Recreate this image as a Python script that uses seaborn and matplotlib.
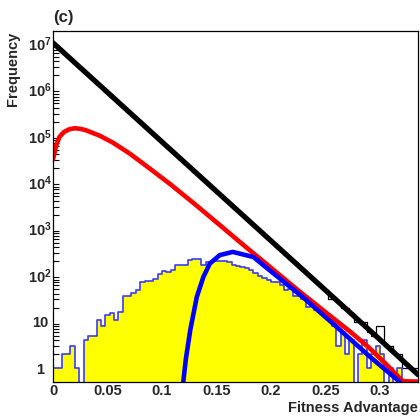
import numpy as np
import pandas as pd
import matplotlib
matplotlib.use("Agg")
import matplotlib.pyplot as plt
import seaborn as sns
from matplotlib.ticker import FixedLocator, LogLocator, NullFormatter

sns.set_theme(style="white")
plt.rcParams["font.family"] = ["Liberation Sans", "DejaVu Sans"]
plt.rcParams["font.weight"] = "bold"
plt.rcParams["mathtext.fontset"] = "custom"
plt.rcParams["mathtext.rm"] = "Liberation Sans:bold"
plt.rcParams["mathtext.bf"] = "Liberation Sans:bold"
plt.rcParams["mathtext.it"] = "Liberation Sans:bold"

# ---- data ------------------------------------------------------------
bin_width = 0.004
n_bins = 84

# sampled fitness advantages of established mutations (yellow histogram)
established_counts = [
    1, 1, 2, 2, 3, 1, 0, 4, 5, 5,
    11, 8, 14, 15, 11, 16, 35, 35, 41, 48,
    71, 74, 74, 82, 105, 123, 117, 128, 164, 164,
    164, 209, 226, 226, 164, 195, 195, 203, 203, 203,
    195, 164, 160, 151, 140, 128, 109, 95, 85, 79,
    72, 72, 61, 49, 51, 35, 35, 30, 21, 27,
    18, 15, 13, 11, 8, 3, 6, 2, 4, 0,
    2, 4, 1, 2, 3, 2, 0, 1, 0, 1,
    0, 0, 0, 0,
]

# fitness advantages of all arising mutations (black histogram)
arising_counts = [
    9.07e6, 7.45e6, 6.12e6, 5.03e6, 4.14e6, 3.40e6, 2.79e6, 2.30e6, 1.89e6, 1.55e6,
    1.27e6, 1.05e6, 8.6e5, 7.07e5, 5.81e5, 4.78e5, 3.92e5, 3.22e5, 2.65e5, 2.18e5,
    1.79e5, 1.47e5, 1.21e5, 9.94e4, 8.17e4, 6.71e4, 5.52e4, 4.53e4, 3.73e4, 3.06e4,
    2.52e4, 2.07e4, 1.70e4, 1.40e4, 1.15e4, 9440, 7760, 6380, 5240, 4310,
    3540, 2910, 2390, 1960, 1610, 1330, 1090, 896, 736, 605,
    497, 409, 336, 276, 227, 186, 153, 126, 104, 85,
    70, 57, 47, 31, 32, 26, 20, 20, 15, 10,
    10, 10, 6, 5, 8, 8, 3, 3, 2, 2,
    1, 1, 1, 1,
]

# theoretical curves: (fitness advantage, frequency)
black_s = [0.0, 0.10, 0.20, 0.30, 0.335]
black_f = [1.0e7, 7.4e4, 550, 4.1, 0.72]

red_s = [0.0, 0.003, 0.006, 0.010, 0.015, 0.020, 0.025, 0.030, 0.043, 0.055,
         0.070, 0.085, 0.107, 0.130, 0.153, 0.175, 0.199, 0.225, 0.250,
         0.273, 0.290, 0.305, 0.321, 0.335]
red_f = [3.1e4, 6.3e4, 9.5e4, 1.2e5, 1.38e5, 1.45e5, 1.41e5, 1.32e5, 1.0e5,
         7.1e4, 4.2e4, 2.3e4, 9.3e3, 3.4e3, 1200, 440, 151, 47, 16,
         6.0, 2.75, 1.26, 0.52, 0.16]

blue_s = [0.1196, 0.122, 0.126, 0.132, 0.138, 0.144, 0.153, 0.165, 0.184,
          0.199, 0.229, 0.260, 0.291, 0.318]
blue_f = [0.45, 1.6, 6.6, 34, 91, 178, 269, 316, 245, 126, 34, 7.8, 1.74,
          0.5]

x_ticks = [0, 0.05, 0.1, 0.15, 0.2, 0.25, 0.3]
x_labels = ["0", "0.05", "0.1", "0.15", "0.2", "0.25", "0.3"]
y_ticks = [1, 10, 1e2, 1e3, 1e4, 1e5, 1e6, 1e7]
y_labels = ["1", "10", r"$10^{2}$", r"$10^{3}$", r"$10^{4}$", r"$10^{5}$",
            r"$10^{6}$", r"$10^{7}$"]

# ---- figure ----------------------------------------------------------
W, H = 420, 416
fig = plt.figure(figsize=(W / 100, H / 100), dpi=100)
fig.patch.set_facecolor("white")
ax = fig.add_axes([53 / W, 34 / H, 365 / W, 351 / H])
ax.set_facecolor("white")
ax.set_yscale("log")

ymin, ymax = 0.5, 1.8e7
centers = (np.arange(n_bins) + 0.5) * bin_width
hist_df = pd.DataFrame({"s": centers,
                        "established": established_counts,
                        "arising": arising_counts})
bin_range = (0.0, n_bins * bin_width)

sns.histplot(data=hist_df, x="s", weights="arising", binwidth=bin_width,
             binrange=bin_range, element="step", fill=False, color="black",
             linewidth=0.9, ax=ax, zorder=1)
sns.histplot(data=hist_df, x="s", weights="established", binwidth=bin_width,
             binrange=bin_range, element="step", fill=True,
             facecolor="#ffff00", edgecolor="#3a3aff", alpha=1,
             linewidth=1.2, ax=ax, zorder=2)

lo = ymin * 1.02
sns.lineplot(x=black_s, y=np.clip(black_f, lo, None), color="black",
             linewidth=3.8, ax=ax, zorder=3)
sns.lineplot(x=red_s, y=np.clip(red_f, lo, None), color="#ff0000",
             linewidth=3.3, ax=ax, zorder=4)
sns.lineplot(x=blue_s, y=np.clip(blue_f, lo, None), color="#0000ff",
             linewidth=3.3, ax=ax, zorder=5)

ax.set_xlim(0, 0.335)
ax.set_ylim(ymin, ymax)
ax.set_xlabel("")
ax.set_ylabel("")

ax.xaxis.set_major_locator(FixedLocator(x_ticks))
ax.set_xticklabels(x_labels)
ax.yaxis.set_major_locator(FixedLocator(y_ticks))
ax.set_yticklabels(y_labels)
ax.yaxis.set_minor_locator(LogLocator(base=10, subs=np.arange(2, 10)))
ax.yaxis.set_minor_formatter(NullFormatter())

ax.tick_params(axis="x", which="both", length=0, pad=1.5, labelsize=10.5)
ax.tick_params(axis="y", which="major", direction="in", length=7.2,
               width=0.8, color="black", pad=9.5, labelsize=10.5)
ax.tick_params(axis="y", which="minor", direction="in", length=4.3,
               width=0.8, color="black", left=True)
for lab in ax.get_yticklabels():
    lab.set_horizontalalignment("center")

for sp in ax.spines.values():
    sp.set_visible(True)
    sp.set_color("black")
    sp.set_linewidth(0.9)
    sp.set_zorder(6)

fig.text(53 / W, 1 - 10 / H, "(c)", ha="left", va="top", fontsize=12,
         fontweight="bold")
fig.text(13 / W, 1 - 32 / H, "Frequency", rotation=90, ha="center",
         va="top", fontsize=10.5, fontweight="bold")
fig.text(418 / W, 1 - 408 / H, "Fitness Advantage", ha="right",
         va="center", fontsize=10.5, fontweight="bold")

fig.savefig("out.png", dpi=100, facecolor="white")
